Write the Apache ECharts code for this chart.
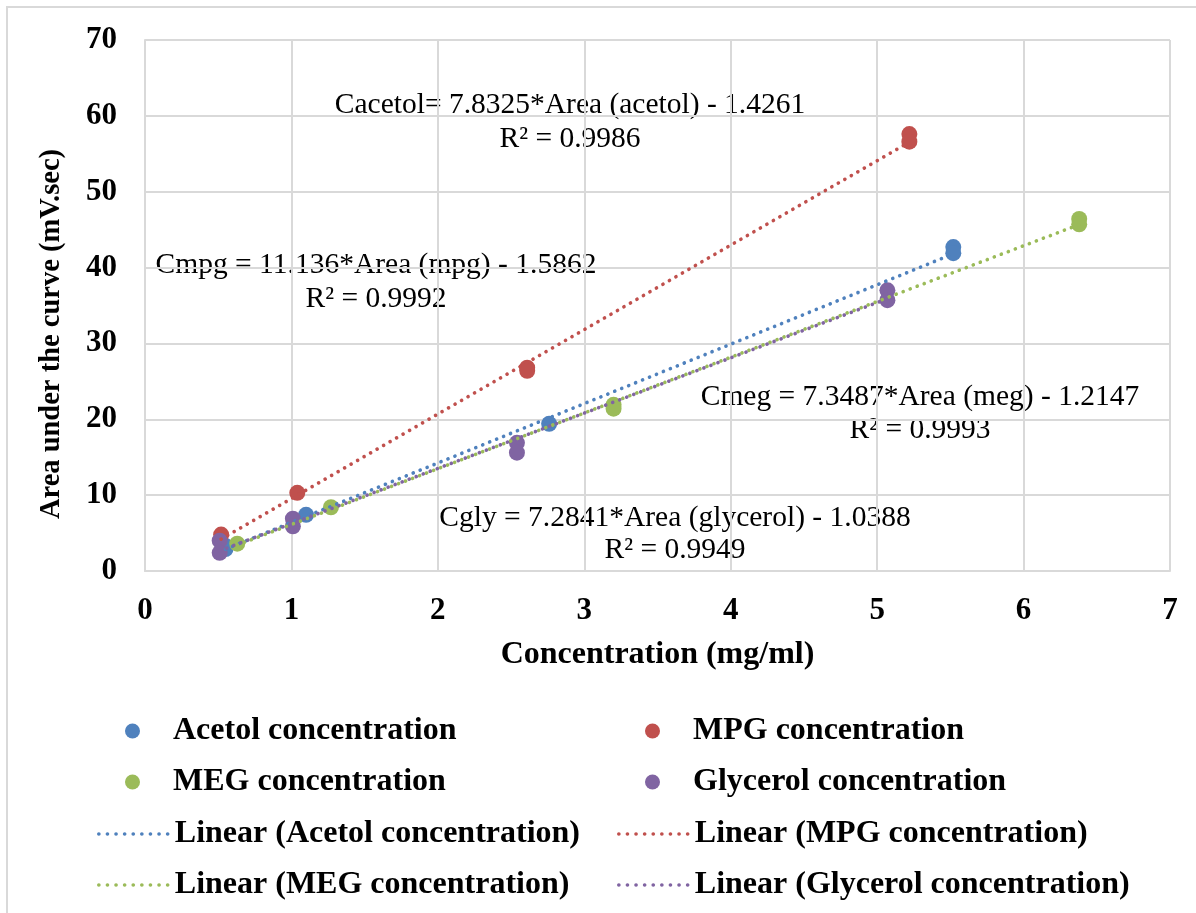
<!DOCTYPE html>
<html>
<head>
<meta charset="utf-8">
<script src="https://cdn.jsdelivr.net/npm/echarts@6/dist/echarts.min.js"></script>
<style>
  html, body { margin: 0; padding: 0; background: #ffffff; }
  #chart { width: 1196px; height: 913px; }
</style>
</head>
<body>
<div id="chart"></div>
<script>
// Measured calibration points: [concentration (mg/ml), area (mV.sec)]
const acetolPoints   = [[0.55, 3.3], [0.55, 2.9], [1.10, 7.4], [2.76, 19.4], [5.52, 42.7], [5.52, 41.9]];
const mpgPoints      = [[0.52, 4.8], [1.04, 10.3], [2.61, 26.8], [2.61, 26.4], [5.22, 57.6], [5.22, 56.6]];
const megPoints      = [[0.63, 3.6], [1.27, 8.4], [3.20, 21.9], [3.20, 21.4], [6.38, 46.4], [6.38, 45.7]];
const glycerolPoints = [[0.51, 4.0], [0.51, 2.4], [1.01, 6.9], [1.01, 5.9], [2.54, 16.9], [2.54, 15.6], [5.07, 37.0], [5.07, 35.7]];

// Least-squares fits (slope, intercept) and R² reported on the chart
const fitSlopes     = [7.8325, 11.136, 7.3487, 7.2841];
const fitIntercepts = [-1.4261, -1.5862, -1.2147, -1.0388];
const fitR2         = ['0.9986', '0.9992', '0.9993', '0.9949'];
const fitLabels     = [
  'Cacetol= 7.8325*Area (acetol) - 1.4261',
  'Cmpg = 11.136*Area (mpg) - 1.5862',
  'Cmeg = 7.3487*Area (meg) - 1.2147',
  'Cgly = 7.2841*Area (glycerol) - 1.0388'
];

const seriesNames = ['Acetol concentration', 'MPG concentration', 'MEG concentration', 'Glycerol concentration'];
const trendNames  = seriesNames.map(n => 'Linear (' + n + ')');
const colors      = ['#4F81BD', '#C0504D', '#9BBB59', '#8064A2'];

const xTicks = { min: 0, max: 7, interval: 1 };
const yTicks = { min: 0, max: 70, interval: 10 };

const allPoints = [acetolPoints, mpgPoints, megPoints, glycerolPoints];

const SERIF = '"Liberation Serif", "Times New Roman", serif';
const GRID_GRAY = '#D9D9D9';

// Trend line spans the x-range of its own series
function trendLine(points, k) {
  const xs = points.map(p => p[0]);
  const x0 = Math.min.apply(null, xs), x1 = Math.max.apply(null, xs);
  return [[x0, fitSlopes[k] * x0 + fitIntercepts[k]], [x1, fitSlopes[k] * x1 + fitIntercepts[k]]];
}

const dotted = { width: 3.6, type: [0.1, 7.4], cap: 'round' };

const series = [];
allPoints.forEach((pts, k) => {
  series.push({
    name: seriesNames[k], type: 'scatter', data: pts,
    symbol: 'circle', symbolSize: 16,
    itemStyle: { color: colors[k], opacity: 1 }
  });
});
allPoints.forEach((pts, k) => {
  series.push({
    name: trendNames[k], type: 'line', data: trendLine(pts, k),
    symbol: 'none', showSymbol: false,
    lineStyle: Object.assign({ color: colors[k] }, dotted),
    itemStyle: { color: colors[k] }
  });
});

// Legend: two columns, four rows
const legendOrder = [
  [seriesNames[0], seriesNames[1]],
  [seriesNames[2], seriesNames[3]],
  [trendNames[0], trendNames[1]],
  [trendNames[2], trendNames[3]]
];
const rowTops = [715, 766, 818, 869];
const colLefts = [97, 617];
const markerShift = 28;
const legends = [];
legendOrder.forEach((row, r) => {
  row.forEach((name, c) => {
    const isTrend = r >= 2;
    const entry = {
      data: [name], top: rowTops[r], padding: 0,
      itemWidth: 71, itemHeight: isTrend ? 32 : 15,
      selectedMode: false,
      textStyle: { fontFamily: SERIF, fontWeight: 'bold', fontSize: 32, color: '#000' }
    };
    if (isTrend) {
      entry.left = colLefts[c];
      entry.itemStyle = { opacity: 0 };
      entry.lineStyle = { color: 'inherit', width: 3.6, type: [0.1, 8.5], cap: 'round' };
    } else {
      entry.left = colLefts[c] + markerShift;
      entry.icon = 'circle';
    }
    legends.push(entry);
  });
});

// Fit equations and R² annotations
const labelCenters = [[570, 105, 139], [376, 265, 299], [920, 397, 430], [675, 518, 550]];
const annotFont = '29.5px ' + SERIF;
const graphics = [{
  type: 'rect', silent: true, z: -10,
  shape: { x: 7, y: 7, width: 1230, height: 960 },
  style: { fill: 'none', stroke: GRID_GRAY, lineWidth: 2 }
}, {
  type: 'text', x: 52, y: 334, rotation: Math.PI / 2, silent: true,
  style: {
    text: 'Area under the curve (mV.sec)', font: 'bold 28.5px ' + SERIF,
    fill: '#000', textAlign: 'center', textVerticalAlign: 'middle'
  }
}];
fitLabels.forEach((txt, k) => {
  const [cx, y1, y2] = labelCenters[k];
  graphics.push({
    type: 'text', x: cx, y: y1, silent: true,
    style: { text: txt, font: annotFont, fill: '#000', textAlign: 'center', textVerticalAlign: 'middle' }
  });
  graphics.push({
    type: 'text', x: cx, y: y2, silent: true,
    style: { text: 'R² = ' + fitR2[k], font: annotFont, fill: '#000', textAlign: 'center', textVerticalAlign: 'middle' }
  });
});

const axisText = { fontFamily: SERIF, fontWeight: 'bold', fontSize: 31, color: '#000' };

const option = {
  animation: false,
  backgroundColor: '#ffffff',
  grid: { left: 145, right: 26, top: 40, bottom: 342, containLabel: false },
  xAxis: {
    type: 'value', min: xTicks.min, max: xTicks.max, interval: xTicks.interval,
    name: 'Concentration (mg/ml)', nameLocation: 'middle', nameGap: 68,
    nameTextStyle: { fontFamily: SERIF, fontWeight: 'bold', fontSize: 32, color: '#000' },
    axisLine: { show: true, lineStyle: { color: GRID_GRAY, width: 2 } },
    axisTick: { show: false },
    axisLabel: Object.assign({ margin: 24 }, axisText),
    splitLine: { show: true, lineStyle: { color: GRID_GRAY, width: 2 } }
  },
  yAxis: {
    type: 'value', min: yTicks.min, max: yTicks.max, interval: yTicks.interval,
    axisLine: { show: true, lineStyle: { color: GRID_GRAY, width: 2 } },
    axisTick: { show: false },
    axisLabel: Object.assign({ margin: 28 }, axisText),
    splitLine: { show: true, lineStyle: { color: GRID_GRAY, width: 2 } }
  },
  legend: legends,
  graphic: graphics,
  series: series
};

const chart = echarts.init(document.getElementById('chart'), null, { renderer: 'canvas' });
chart.setOption(option);
</script>
</body>
</html>
